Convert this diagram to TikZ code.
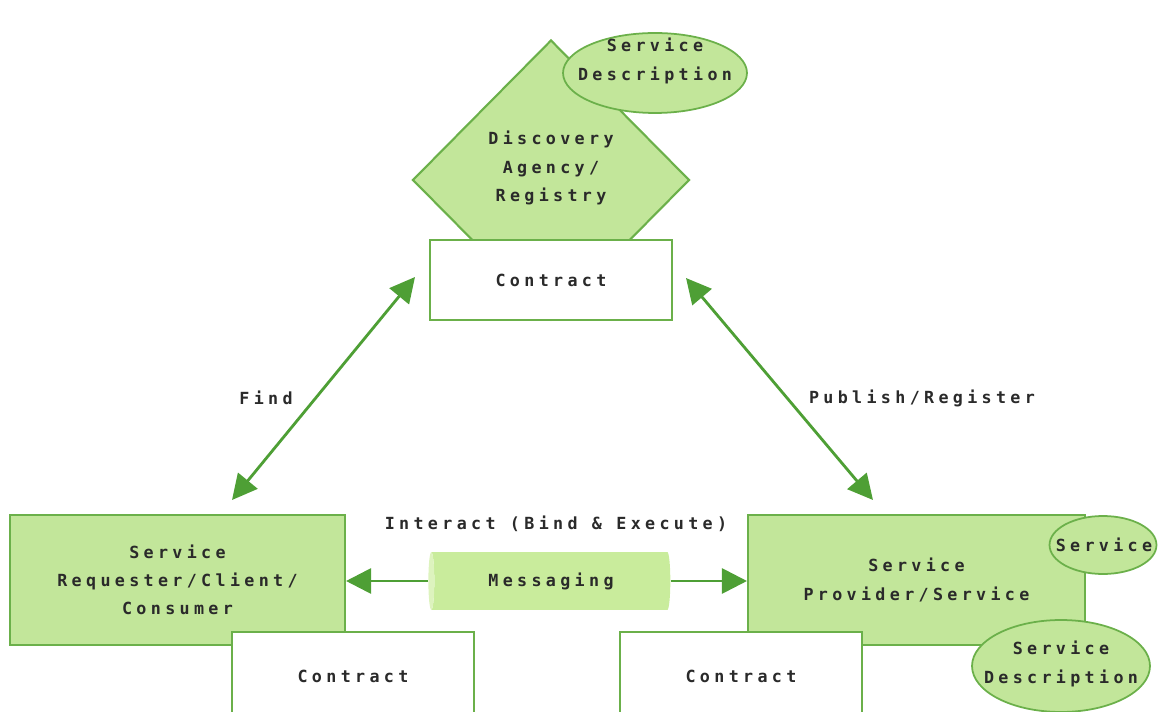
\documentclass[tikz,border=0pt]{standalone}
\usepackage{fontspec}
\newfontfamily\diafont[LetterSpace=26]{DejaVu Sans Mono}
\usetikzlibrary{shapes.geometric,arrows.meta}
\definecolor{boxgreen}{HTML}{C2E69A}
\definecolor{linegreen}{HTML}{6BB04A}
\definecolor{arrowgreen}{HTML}{4E9F35}
\definecolor{pipegreen}{HTML}{C9EC9C}
\definecolor{pipeend}{HTML}{DDF3BE}
\definecolor{txtgray}{HTML}{2A2A2A}
\begin{document}
\begin{tikzpicture}[x=0.02cm,y=-0.02cm,
    font=\diafont\bfseries\fontsize{9.5}{16}\selectfont, text=txtgray,
    greenbox/.style={draw=linegreen,line width=1.2pt,fill=boxgreen,align=center,inner sep=0pt},
    contractbox/.style={draw=linegreen,line width=1.2pt,fill=white,minimum width=4.84cm,inner sep=0pt},
    bubble/.style={ellipse,draw=linegreen,line width=1pt,fill=boxgreen,inner sep=0pt},
    link/.style={arrowgreen,line width=1.6pt,-{Triangle[length=0.5cm,width=0.5cm]}},
    dlink/.style={link,{Triangle[length=0.5cm,width=0.5cm]}-{Triangle[length=0.5cm,width=0.5cm]}}]
    \useasboundingbox (0,0) rectangle (1159,712);
    \clip (0,0) rectangle (1159,712);
    % registry at the top
    \node (registry) at (551,180) [diamond,greenbox,minimum width=5.54cm,minimum height=5.6cm] {};
    \node (regtext) at (551,168) [align=center] {Discovery\\Agency/\\Registry};
    \node (regdesc) at (655,73) [bubble,minimum width=3.68cm,minimum height=1.6cm] {};
    \node (regdesctext) at (655,61) [align=center] {Service\\Description};
    \node (regcontract) at (551,280) [contractbox,minimum height=1.6cm] {Contract};
    % requester on the left
    \node (requester) at (177.5,580) [greenbox,minimum width=6.7cm,minimum height=2.6cm] {Service\\Requester/Client/\\Consumer};
    \node (reqcontract) at (353,676) [contractbox,minimum height=1.76cm] {Contract};
    % provider on the right
    \node (provider) at (916.5,580) [greenbox,minimum width=6.74cm,minimum height=2.6cm] {Service\\Provider/Service};
    \node (provservice) at (1103,545) [bubble,minimum width=2.14cm,minimum height=1.16cm] {};
    \node (servicetext) at (1104,545) {Service};
    \node (provdesc) at (1061,666) [bubble,minimum width=3.56cm,minimum height=1.84cm] {};
    \node (provdesctext) at (1061,664) [align=center] {Service\\Description};
    \node (provcontract) at (741,676) [contractbox,minimum height=1.76cm] {Contract};
    % messaging
    \node (messaging) at (551,581) [cylinder,shape border rotate=180,aspect=0.35,
        minimum width=1.16cm,minimum height=4.84cm,inner sep=0pt,
        cylinder uses custom fill,cylinder body fill=pipegreen,cylinder end fill=pipeend] {Messaging};
    \draw[link] (messaging.top) -- (messaging.top -| requester.east);
    \draw[link] (messaging.bottom) -- (messaging.bottom -| provider.west);
    \node (interact) at (556,524) {Interact (Bind \& Execute)};
    % find and publish
    \coordinate (findtop) at (415,277);
    \coordinate (findbot) at (232,500);
    \coordinate (pubtop) at (686,278);
    \coordinate (pubbot) at (873,500);
    \draw[dlink] (findbot) -- (findtop);
    \draw[dlink] (pubbot) -- (pubtop);
    \node (find) at (266,398) {Find};
    \node (publish) at (922,398) {Publish/Register};
\end{tikzpicture}
\end{document}
